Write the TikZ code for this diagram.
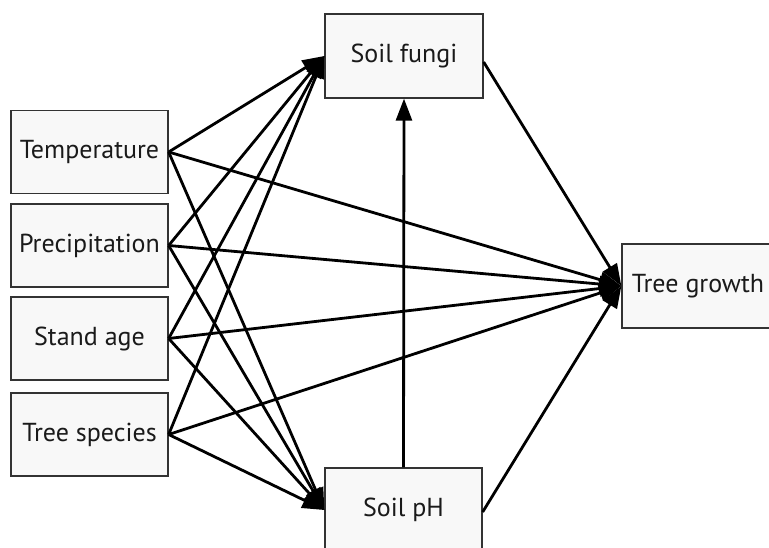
\documentclass[tikz,border=0pt]{standalone}
\usepackage{fontspec}
\setmainfont{PT Sans}
\usetikzlibrary{arrows.meta}
\definecolor{boxfill}{HTML}{F8F8F8}
\definecolor{boxline}{HTML}{333333}
\definecolor{txt}{HTML}{1A1A1A}
\begin{document}
\begin{tikzpicture}[x=1pt,y=-1pt,
  box/.style={draw=boxline, line width=1.3pt, fill=boxfill, rectangle, inner sep=0pt,
    minimum height=83pt, text=txt, font=\fontsize{26}{30}\selectfont},
  conn/.style={line width=2.8pt, black, -{Triangle[length=22pt,width=16pt]}}
]
\useasboundingbox (0,0) rectangle (769,548);
\node[box, minimum width=157pt] (temp) at (89.5,152) {Temperature};
\node[box, minimum width=157pt] (prec) at (89.5,245.5) {Precipitation};
\node[box, minimum width=157pt] (stand) at (89.5,338.5) {Stand age};
\node[box, minimum width=157pt] (spec) at (89.5,434.5) {Tree species};
\node[box, minimum width=158pt, minimum height=84pt] (fungi) at (404,56) {Soil fungi};
\node[box, minimum width=157pt, minimum height=84pt] (ph) at (403.5,510) {Soil pH};
\node[box, minimum width=152pt, minimum height=84pt] (growth) at (698,286) {Tree growth};
\foreach \s in {temp,prec,stand,spec}{
  \draw[conn] (\s.east) -- (fungi.west);
  \draw[conn] (\s.east) -- (ph.west);
  \draw[conn] (\s.east) -- (growth.west);
}
\draw[conn] (ph.north) -- (fungi.south);
\draw[conn] ([yshift=-6pt]fungi.east) -- (growth.west);
\draw[conn] ([yshift=-2pt]ph.east) -- (growth.west);
\end{tikzpicture}
\end{document}
